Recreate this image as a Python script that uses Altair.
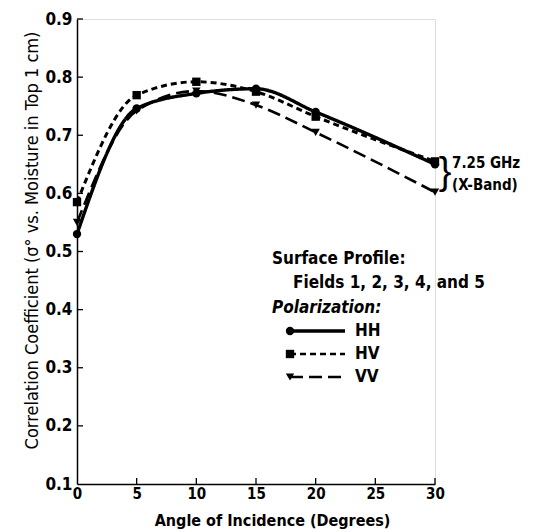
import altair as alt
import pandas as pd

# ---- data ----
angles = [0, 5, 10, 15, 20, 30]
hh = [0.530, 0.746, 0.772, 0.780, 0.740, 0.650]
hv = [0.585, 0.769, 0.792, 0.775, 0.732, 0.655]
vv = [0.550, 0.742, 0.776, 0.752, 0.705, 0.602]
pols = ["HH", "HV", "VV"]
x_ticks = [0, 5, 10, 15, 20, 25, 30]
y_ticks = [0.1, 0.2, 0.3, 0.4, 0.5, 0.6, 0.7, 0.8, 0.9]

rows = []
for name, vals in zip(pols, [hh, hv, vv]):
    for a, v in zip(angles, vals):
        rows.append({"angle": a, "r": v, "pol": name})
df = pd.DataFrame(rows)

FONT = "Liberation Sans Narrow, DejaVu Sans Condensed, Liberation Sans, sans-serif"
W, H = 358, 465

dash_range = [[1, 0], [6, 4], [13, 6]]
width_range = [3.4, 2.6, 2.6]
shape_range = ["circle", "square", "triangle-down"]

xscale = alt.Scale(domain=[0, 30], nice=False, zero=False)
yscale = alt.Scale(domain=[0.1, 0.9], nice=False, zero=False)

xaxis = alt.Axis(values=x_ticks, ticks=False, grid=False, domainColor="black",
                 domainWidth=1.5, labelFont=FONT, labelFontSize=15,
                 labelFontWeight="bold", labelColor="black", labelPadding=2,
                 title="Angle of Incidence (Degrees)", titleFont=FONT,
                 titleFontSize=16, titleFontWeight="bold", titleColor="black",
                 titleX=195, titleY=36, titleBaseline="middle", titleAlign="center",
                 labelFlush=False)
yaxis = alt.Axis(values=y_ticks, format=".1f", ticks=False, grid=False,
                 domainColor="black", domainWidth=1.5, labelFont=FONT,
                 labelFontSize=17, labelFontWeight="bold", labelColor="black",
                 labelPadding=5, labelFlush=False,
                 title="Correlation Coefficient (σ° vs. Moisture in Top 1 cm)",
                 titleFont=FONT, titleFontSize=18, titleFontWeight="normal",
                 titleColor="black", titleX=-45, titleY=221, titleAngle=-90,
                 titleBaseline="middle", titleAlign="center")

base = alt.Chart(df).encode(
    x=alt.X("angle:Q", scale=xscale, axis=xaxis),
    y=alt.Y("r:Q", scale=yscale, axis=yaxis),
)

lines = base.mark_line(interpolate="monotone", color="black").encode(
    strokeDash=alt.StrokeDash("pol:N", scale=alt.Scale(domain=pols, range=dash_range), legend=None),
    strokeWidth=alt.StrokeWidth("pol:N", scale=alt.Scale(domain=pols, range=width_range), legend=None),
    detail="pol:N",
)
points = base.mark_point(filled=True, color="black", opacity=1, size=70).encode(
    shape=alt.Shape("pol:N", scale=alt.Scale(domain=pols, range=shape_range), legend=None),
)

# inward tick marks
xt = alt.Chart(pd.DataFrame({"angle": x_ticks[1:]})).mark_rule(color="black", strokeWidth=1.3).encode(
    x=alt.X("angle:Q", scale=xscale, axis=xaxis), y=alt.value(H), y2=alt.value(H - 6))
yt = alt.Chart(pd.DataFrame({"r": y_ticks[1:]})).mark_rule(color="black", strokeWidth=1.3).encode(
    y=alt.Y("r:Q", scale=yscale, axis=yaxis), x=alt.value(0), x2=alt.value(6))

layers = [lines, points, xt, yt]

# legend block
def txt(s, x, y, size=17, weight="bold", style="normal", align="left", font=FONT):
    return alt.Chart(pd.DataFrame({"t": [s]})).mark_text(
        font=font, fontSize=size, fontWeight=weight, fontStyle=style, align=align,
        baseline="middle", color="black").encode(text="t:N", x=alt.value(x), y=alt.value(y))

layers.append(txt("Surface Profile:", 195, 240))
layers.append(txt("Fields 1, 2, 3, 4, and 5", 216, 264))
layers.append(txt("Polarization:", 195, 289, style="italic"))

for i, p in enumerate(pols):
    yy = 312 + 23 * i
    d = pd.DataFrame({"pol": [p]})
    layers.append(alt.Chart(d).mark_rule(color="black", strokeWidth=width_range[i],
                                         strokeDash=dash_range[i]).encode(
        x=alt.value(213), x2=alt.value(268), y=alt.value(yy)))
    layers.append(alt.Chart(d).mark_point(filled=True, color="black", opacity=1, size=70,
                                          shape=shape_range[i]).encode(
        x=alt.value(213), y=alt.value(yy)))
    layers.append(txt(p, 278, yy, size=17))

# band annotation
layers.append(txt("}", 368, 154, size=38, weight="normal", align="center",
                  font="Liberation Sans"))
layers.append(txt("7.25 GHz", 375, 144, size=15))
layers.append(txt("(X-Band)", 375, 166, size=15))

chart = alt.layer(*layers).properties(
    width=W, height=H,
    autosize=alt.AutoSizeParams(type="none"),
    padding={"left": 69, "top": 11, "right": 90, "bottom": 46},
).configure_view(stroke=None).configure(background="white")

chart.save("out.html", embed_options={"renderer": "svg", "actions": False})
